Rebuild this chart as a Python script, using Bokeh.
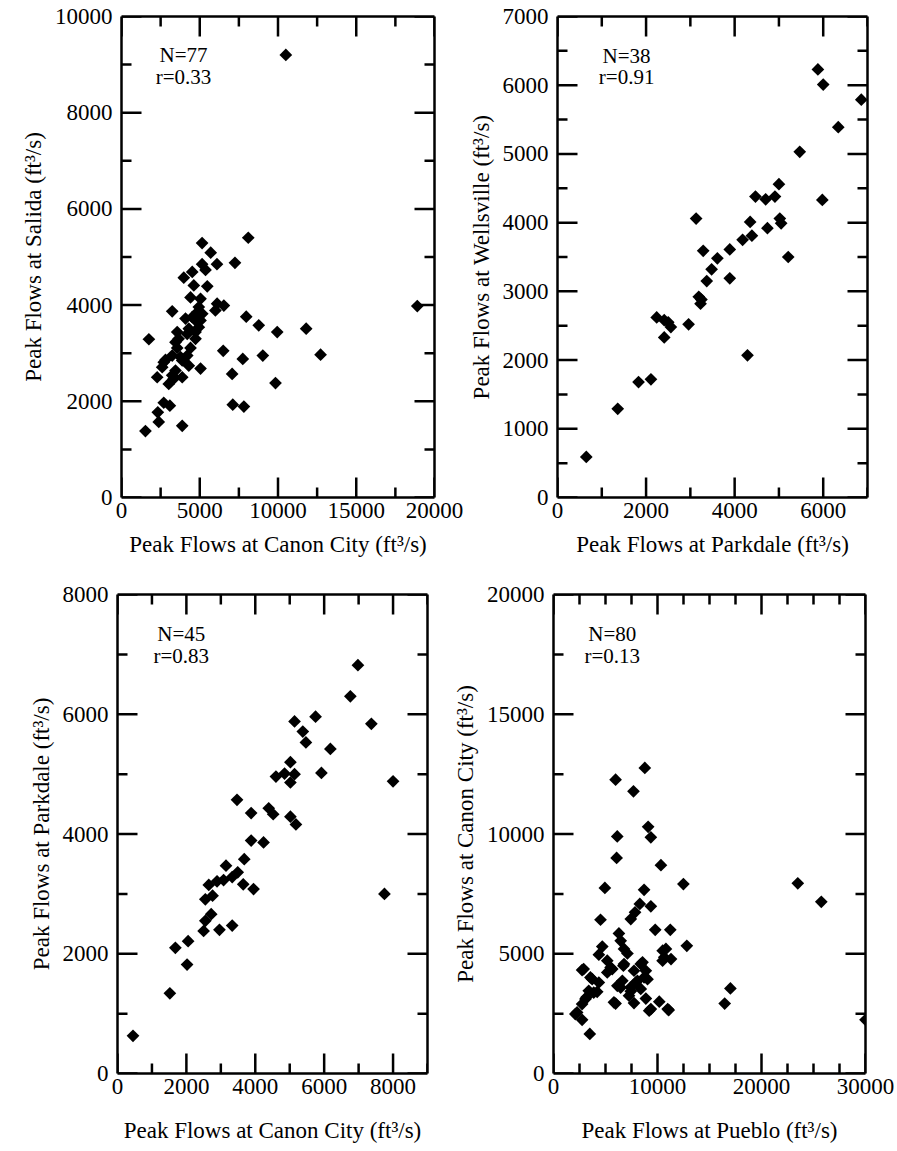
import numpy as np
from bokeh.plotting import figure
from bokeh.layouts import column, row
from bokeh.models import Range1d, FixedTicker, LinearAxis, Label, CustomLabelingPolicy
from bokeh.embed import file_html
from bokeh.resources import INLINE

# ---------------- data (ft^3/s) ----------------
# Panel 1: Canon City (x) vs Salida (y)
canon1_x = [10500, 8100, 5150, 5700, 6100, 7250, 5150, 5370, 4520, 3980, 4620, 5480, 4410, 5050,
            6110, 6540, 6000, 4940, 3240, 5160, 4090, 4730, 4940, 3560, 4730, 4300, 1750, 3450,
            4730, 3560, 4410, 6500, 3240, 4200, 3880, 2810, 4300, 2600, 3450, 5050, 2280, 3240,
            3880, 3020, 7070, 7750, 2700, 3090, 7110, 7820, 2320, 2380, 3880, 1530, 7970, 8770,
            9950, 11800, 18900, 9030, 12720, 9840, 4840, 3770, 3340, 2700, 4520, 5050, 4200, 3650]
salida_y = [9200, 5400, 5290, 5090, 4850, 4880, 4850, 4730, 4690, 4570, 4410, 4390, 4160, 4130,
            4030, 3990, 3890, 3960, 3870, 3820, 3720, 3680, 3540, 3440, 3440, 3510, 3290, 3230,
            3300, 3110, 3110, 3050, 2950, 2950, 2850, 2860, 2740, 2710, 2640, 2680, 2500, 2540,
            2500, 2360, 2570, 2880, 1970, 1910, 1930, 1890, 1770, 1570, 1490, 1380, 3760, 3580,
            3440, 3510, 3980, 2950, 2970, 2380, 3850, 2920, 2470, 2810, 3750, 3680, 3400, 3300]

# Panel 2: Parkdale (x) vs Wellsville (y)
parkdale2_x = [650, 1360, 1830, 2110, 2240, 2410, 2560, 2410, 2960, 3230, 3190, 3370, 3890, 3130,
               3290, 3480, 3610, 3890, 4180, 4390, 4350, 4740, 5020, 5050, 4470, 4700, 4910, 5000,
               4290, 5210, 5470, 5980, 6340, 5880, 6000, 6860, 2500, 3250]
wellsville_y = [590, 1290, 1680, 1720, 2620, 2580, 2480, 2330, 2520, 2820, 2920, 3150, 3190, 4060,
                3590, 3320, 3480, 3610, 3750, 3810, 4010, 3920, 4060, 3990, 4380, 4340, 4380, 4560,
                2070, 3500, 5030, 4330, 5390, 6230, 6010, 5790, 2550, 2880]

# Panel 3: Canon City (x) vs Parkdale (y)
canon3_x = [6980, 6760, 7370, 5750, 5140, 5380, 5470, 6180, 5020, 4600, 4850, 5140, 5020, 5920,
            8000, 3470, 3880, 4390, 4520, 5020, 5180, 3880, 4240, 3680, 3150, 3490, 3330, 3080,
            2890, 2650, 3650, 3950, 2760, 2550, 7750, 2720, 2550, 2500, 2960, 3330, 1680, 2050,
            2020, 1520, 450]
parkdale3_y = [6820, 6300, 5840, 5960, 5880, 5710, 5530, 5420, 5200, 4960, 5010, 5000, 4860, 5020,
               4880, 4570, 4350, 4430, 4330, 4290, 4160, 3890, 3860, 3580, 3470, 3360, 3280, 3230,
               3210, 3150, 3160, 3080, 2970, 2910, 3000, 2660, 2550, 2380, 2400, 2470, 2100, 2210,
               1820, 1340, 630]

# Panel 4: Pueblo (x) vs Canon City (y)
pueblo_x = [8780, 5970, 7690, 6130, 9100, 9360, 6070, 10330, 12490, 23490, 25750, 4940, 8710, 8300,
            9360, 7840, 7430, 4520, 9780, 11230, 12820, 6290, 6460, 4690, 6780, 7110, 4360, 10810,
            10650, 11300, 5170, 8390, 6720, 5490, 7740, 2750, 8710, 5170, 3550, 6620, 7910, 4360,
            6460, 3390, 7430, 8390, 4200, 3170, 7260, 8880, 17010, 16460, 5970, 7740, 10170, 9200,
            11080, 2750, 2100, 2750, 3490, 30000, 10500, 10490, 2900, 5650, 6780, 8560, 8880, 9040,
            3720, 6140, 7420, 3870, 3070, 5810, 9360, 10980, 2270, 8070]
canon4_y = [12760, 12270, 11780, 9900, 10300, 9860, 9000, 8700, 7910, 7940, 7170, 7750, 7670, 7080,
            6980, 6730, 6450, 6420, 6000, 6000, 5330, 5850, 5540, 5300, 5200, 5010, 4960, 5200,
            4850, 4780, 4710, 4570, 4500, 4430, 4290, 4320, 4010, 4220, 4010, 3870, 3800, 3800,
            3590, 3450, 3430, 3530, 3410, 3180, 3250, 3130, 3550, 2920, 2920, 2940, 3000, 2620,
            2650, 2900, 2480, 2240, 1650, 2240, 5130, 4710, 4360, 4360, 4570, 4640, 4290, 3940,
            3940, 3660, 3600, 3380, 3110, 2970, 2690, 2690, 2550, 3870]

FONT = "Liberation Serif"
TICK_FS = "23px"
TITLE_FS = "23px"
MAJOR_LEN = 20
MINOR_LEN = 10

NO_LABELS = CustomLabelingPolicy(code="""
try {
  for (const i of Array.from(indices.ones())) { indices.unset(i) }
} catch (e) {
  try { for (const i of Array.from(indices)) { indices.unset(i) } } catch (e2) {}
}
return indices
""")


def style_axis(ax, labels=True, standoff=3):
    ax.axis_line_color = "black"
    ax.axis_line_width = 2.5
    ax.major_tick_in = 0
    ax.major_tick_out = 0
    ax.minor_tick_in = 0
    ax.minor_tick_out = 0
    ax.major_tick_line_color = None
    ax.minor_tick_line_color = None
    if labels:
        ax.major_label_text_font = FONT
        ax.major_label_text_font_size = TICK_FS
        ax.major_label_text_color = "black"
        ax.major_label_standoff = standoff
        ax.axis_label_text_font = FONT
        ax.axis_label_text_font_size = TITLE_FS
        ax.axis_label_text_font_style = "normal"
        ax.axis_label_text_color = "black"
    else:
        ax.major_label_text_font_size = "0px"
        ax.major_label_standoff = 0
        ax.major_label_policy = NO_LABELS


def inward_ticks(p, xr, yr, xmaj, xmin, ymaj, ymin):
    """Ticks pointing into the frame on all four sides (screen-length rays)."""
    kw = dict(length_units="screen", line_color="black", line_width=2.5)
    for vals, ln in ((xmaj, MAJOR_LEN), (xmin, MINOR_LEN)):
        p.ray(x=vals, y=[yr[0]] * len(vals), length=ln, angle=np.pi / 2, **kw)
        p.ray(x=vals, y=[yr[1]] * len(vals), length=ln, angle=-np.pi / 2, **kw)
    for vals, ln in ((ymaj, MAJOR_LEN), (ymin, MINOR_LEN)):
        p.ray(x=[xr[0]] * len(vals), y=vals, length=ln, angle=0, **kw)
        p.ray(x=[xr[1]] * len(vals), y=vals, length=ln, angle=np.pi, **kw)


def panel(x, y, xr, yr, xmaj, xmin, ymaj, ymin, xlabel, ylabel, n_text, r_text,
          lab_x, lab_y1, lab_y2, fw, fh, bl, br, bt, bb, xtitle_standoff):
    p = figure(frame_width=fw, frame_height=fh,
               x_range=Range1d(*xr), y_range=Range1d(*yr),
               output_backend="svg", toolbar_location=None, tools="",
               min_border_left=bl, min_border_right=br,
               min_border_top=bt, min_border_bottom=bb)
    p.xgrid.visible = False
    p.ygrid.visible = False
    p.outline_line_color = None
    p.background_fill_color = "white"
    p.border_fill_color = "white"

    p.xaxis[0].ticker = FixedTicker(ticks=xmaj, minor_ticks=xmin)
    p.yaxis[0].ticker = FixedTicker(ticks=ymaj, minor_ticks=ymin)
    p.xaxis[0].axis_label = xlabel
    p.yaxis[0].axis_label = ylabel
    style_axis(p.xaxis[0], True, 5)
    style_axis(p.yaxis[0], True, 9)
    p.xaxis[0].axis_label_standoff = xtitle_standoff
    p.yaxis[0].axis_label_standoff = 6

    top = LinearAxis(ticker=FixedTicker(ticks=xmaj, minor_ticks=xmin))
    style_axis(top, False)
    p.add_layout(top, "above")
    right = LinearAxis(ticker=FixedTicker(ticks=ymaj, minor_ticks=ymin))
    style_axis(right, False)
    p.add_layout(right, "right")

    inward_ticks(p, xr, yr, xmaj, xmin, ymaj, ymin)

    p.scatter(x, y, marker="square", size=9, angle=np.pi / 4,
              fill_color="black", line_color=None)

    for txt, yy in ((n_text, lab_y1), (r_text, lab_y2)):
        p.add_layout(Label(x=lab_x, y=yy, text=txt, text_font=FONT,
                           text_font_size="21px", text_align="center",
                           text_baseline="middle", text_color="black"))
    return p


U = "Peak Flows at {} (ft\u00b3/s)"

p1 = panel(canon1_x, salida_y, (0, 20000), (0, 10000),
           [0, 5000, 10000, 15000, 20000], [2500, 7500, 12500, 17500],
           [0, 2000, 4000, 6000, 8000, 10000], [1000, 3000, 5000, 7000, 9000],
           U.format("Canon City"), U.format("Salida"), "N=77", "r=0.33",
           3960, 9190, 8750, 313, 481, 121, 30, 16, 85, 11)

p2 = panel(parkdale2_x, wellsville_y, (0, 7000), (0, 7000),
           [0, 2000, 4000, 6000], [1000, 3000, 5000, 7000],
           [0, 1000, 2000, 3000, 4000, 5000, 6000, 7000], [500, 1500, 2500, 3500, 4500, 5500, 6500],
           U.format("Parkdale"), U.format("Wellsville"), "N=38", "r=0.91",
           1560, 6430, 6125, 310, 481, 93, 22, 16, 85, 11)

p3 = panel(canon3_x, parkdale3_y, (0, 9000), (0, 8000),
           [0, 2000, 4000, 6000, 8000], [1000, 3000, 5000, 7000, 9000],
           [0, 2000, 4000, 6000, 8000], [1000, 3000, 5000, 7000],
           U.format("Canon City"), U.format("Parkdale"), "N=45", "r=0.83",
           1850, 7340, 6970, 310, 479, 117, 15, 12, 72, 21)

p4 = panel(pueblo_x, canon4_y, (0, 30000), (0, 20000),
           [0, 10000, 20000, 30000], [2500, 5000, 7500, 12500, 15000, 17500, 22500, 25000, 27500],
           [0, 5000, 10000, 15000, 20000], [2500, 7500, 12500, 17500],
           U.format("Pueblo"), U.format("Canon City"), "N=80", "r=0.13",
           5650, 18350, 17420, 312, 479, 111, 30, 12, 72, 21)

layout = column(row(p1, p2), row(p3, p4))

open("out.html", "w").write(file_html(layout, INLINE))
